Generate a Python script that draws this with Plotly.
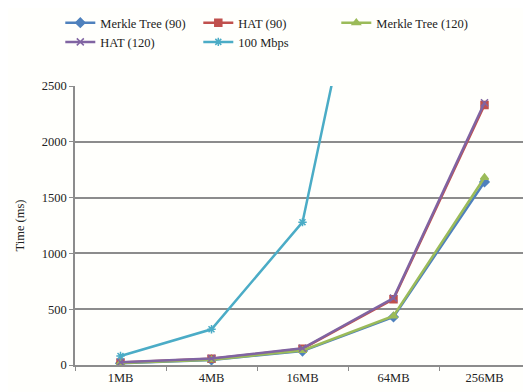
import plotly.graph_objects as go

categories = ["1MB", "4MB", "16MB", "64MB", "256MB"]
merkle_90 = [15, 45, 125, 430, 1640]
hat_90 = [22, 55, 145, 590, 2330]
merkle_120 = [18, 48, 130, 440, 1680]
hat_120 = [25, 58, 150, 600, 2350]
mbps_100 = [80, 320, 1280, 5120, 20480]
y_ticks = [0, 500, 1000, 1500, 2000, 2500]

series = [
    ("Merkle Tree (90)", merkle_90, "#4F81BD", "diamond"),
    ("HAT (90)", hat_90, "#C0504D", "square"),
    ("Merkle Tree (120)", merkle_120, "#9BBB59", "triangle-up"),
    ("HAT (120)", hat_120, "#8064A2", "x-thin"),
    ("100 Mbps", mbps_100, "#4BACC6", "asterisk"),
]

fig = go.Figure()
for name, vals, color, sym in series:
    fig.add_trace(go.Scatter(
        x=categories, y=vals, name=name, mode="lines+markers",
        line=dict(color=color, width=2.5),
        marker=dict(symbol=sym, size=7, color=color,
                    line=dict(color=color, width=1.5)),
        cliponaxis=True,
    ))

font = dict(family="Liberation Serif, Times New Roman, serif", size=12.5, color="#222")
fig.update_layout(
    width=523, height=384,
    margin=dict(l=67, r=1, t=78, b=27, autoexpand=False),
    paper_bgcolor="#FFFFFC", plot_bgcolor="#FFFFFC",
    font=font,
    showlegend=True,
    legend=dict(
        orientation="h", xref="container", yref="container",
        x=0.10, y=1.0, xanchor="left", yanchor="top",
        entrywidth=93, entrywidthmode="pixels",
        font=font,
        bgcolor="rgba(0,0,0,0)", itemwidth=30, tracegroupgap=0,
    ),
    xaxis=dict(
        type="category", showgrid=False, showline=True, linecolor="#8C8C8C",
        linewidth=1.5, ticks="outside", tickson="boundaries", ticklen=4,
        tickcolor="#8C8C8C", tickfont=font, range=[-0.5, 4.5],
    ),
    yaxis=dict(
        range=[0, 2500], tickvals=y_ticks, showgrid=True, gridcolor="#8C8C8C",
        gridwidth=1.5, showline=True, linecolor="#8C8C8C", linewidth=1.5,
        ticks="outside", ticklen=4, tickcolor="#8C8C8C", tickfont=font,
        zeroline=False,
        title=dict(text="Time (ms)", font=font, standoff=14),
    ),
)

fig.write_html("out.html")
